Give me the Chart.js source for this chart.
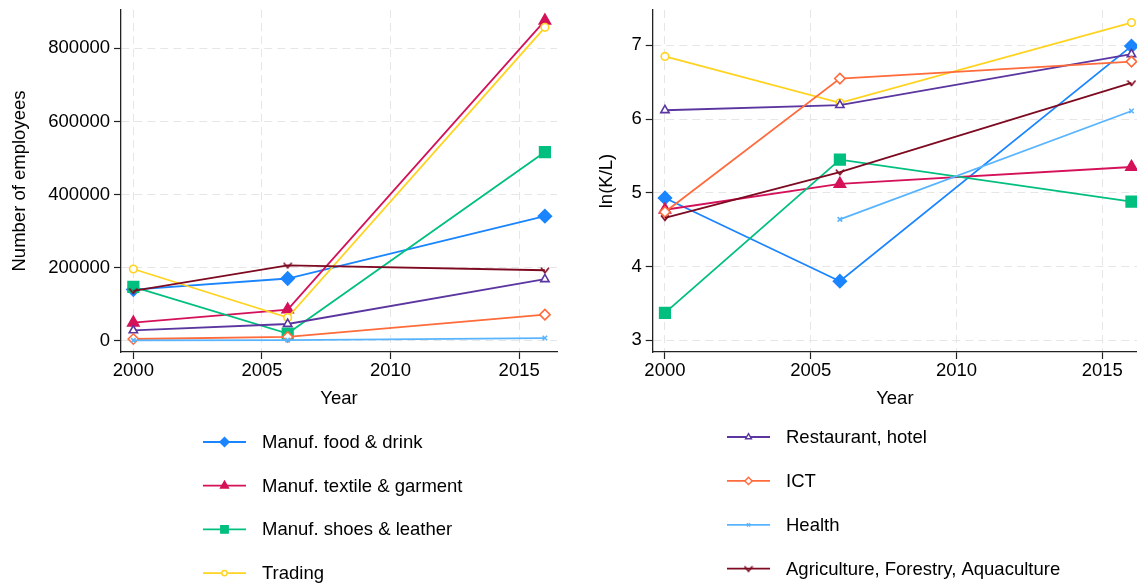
<!DOCTYPE html>
<html>
<head>
<meta charset="utf-8">
<script src="https://cdn.jsdelivr.net/npm/chart.js@4/dist/chart.umd.min.js"></script>
<style>
  html, body { margin: 0; padding: 0; background: #fff; overflow: hidden; }
  canvas { position: absolute; top: 0; display: block; }
  #empChart { left: 0; }
  #klChart { left: 568px; }
</style>
</head>
<body>
<canvas id="empChart" width="568" height="588" style="width:568px;height:588px"></canvas>
<canvas id="klChart" width="569" height="588" style="width:569px;height:588px"></canvas>
<script>
// ------------------------------------------
// data
// ------------------------------------------
const years = [2000, 2006, 2016];
const xTicks = [2000, 2005, 2010, 2015];

const sectorNames = [
    "Manuf. food & drink",
    "Manuf. textile & garment",
    "Manuf. shoes & leather",
    "Trading",
    "Restaurant, hotel",
    "ICT",
    "Health",
    "Agriculture, Forestry, Aquaculture"
];

// number of employees
const empFood       = [139700, 170000, 340600];
const empTextile    = [49300, 85000, 875700];
const empShoes      = [147000, 19200, 516000];
const empTrading    = [196000, 63000, 857600];
const empRestaurant = [28000, 45500, 168000];
const empICT        = [4400, 10000, 71000];
const empHealth     = [500, 1500, 7000];
const empAgri       = [136000, 206000, 192600];
const empTicks      = [0, 200000, 400000, 600000, 800000];

// ln(K/L)
const klFood       = [4.93, 3.80, 6.99];
const klTextile    = [4.77, 5.12, 5.35];
const klShoes      = [3.37, 5.45, 4.88];
const klTrading    = [6.85, 6.22, 7.31];
const klRestaurant = [6.12, 6.19, 6.88];
const klICT        = [4.74, 6.55, 6.78];
const klHealth     = [null, 4.64, 6.11];
const klAgri       = [4.66, 5.28, 6.49];
const klTicks      = [3, 4, 5, 6, 7];

// ------------------------------------------
// styles
// ------------------------------------------
const FONT = "'Liberation Sans', Arial, Helvetica, sans-serif";
Chart.defaults.font.family = FONT;
Chart.defaults.font.size = 18.5;
Chart.defaults.color = "#000";

// little "v" marker, Chart.js has none
function makeVee(color, w, h) {
    const c = document.createElement("canvas");
    c.width = w; c.height = h;
    const g = c.getContext("2d");
    g.strokeStyle = color;
    g.lineWidth = 1.6;
    g.beginPath();
    g.moveTo(1, 1.5);
    g.lineTo(w / 2, h - 1.5);
    g.lineTo(w - 1, 1.5);
    g.stroke();
    return c;
}

const looks = [
    { color: "#1a85ff", style: "rectRot",  r: 6.5, fill: true },
    { color: "#d41159", style: "triangle", r: 6.5, fill: true },
    { color: "#00bf7f", style: "rect",     r: 7.5, fill: true },
    { color: "#ffd320", style: "circle",   r: 3.8, fill: false },
    { color: "#5b36a0", style: "triangle", r: 4.8, fill: false },
    { color: "#ff6b3b", style: "rectRot",  r: 5.2, fill: false },
    { color: "#59b4ff", style: "crossRot", r: 3.2, fill: false },
    { color: "#7d0a20", style: "vee",      r: 4,   fill: false }
];

function buildDatasets(seriesList) {
    return seriesList.map((vals, i) => {
        const lk = looks[i];
        const ps = lk.style === "vee" ? makeVee(lk.color, 10, 8) : lk.style;
        return {
            label: sectorNames[i],
            data: years.map((yr, j) => ({ x: yr, y: vals[j] })),
            borderColor: lk.color,
            backgroundColor: lk.fill ? lk.color : "#fff",
            borderWidth: 1.8,
            pointStyle: ps,
            pointRadius: lk.r,
            pointBorderWidth: 1.6,
            pointBorderColor: lk.color,
            pointBackgroundColor: lk.fill ? lk.color : "#fff",
            tension: 0,
            spanGaps: false,
            order: 7 - i
        };
    });
}

// legend stacked in one column under the plot
const stackLegend = {
    id: "stackLegend",
    afterDraw(chart, args, opts) {
        const ctx = chart.ctx;
        ctx.save();
        opts.items.forEach((idx, k) => {
            const ds = chart.data.datasets[idx];
            const lk = looks[idx];
            const y = opts.y + k * opts.dy;
            ctx.strokeStyle = lk.color;
            ctx.lineWidth = 1.8;
            ctx.beginPath();
            ctx.moveTo(opts.x, y);
            ctx.lineTo(opts.x + opts.lineLen, y);
            ctx.stroke();
            ctx.fillStyle = lk.fill ? lk.color : "#fff";
            ctx.strokeStyle = lk.color;
            ctx.lineWidth = 1.4;
            Chart.helpers.drawPoint(ctx, {
                pointStyle: ds.pointStyle,
                radius: lk.r * 0.7,
                borderWidth: 1.4,
                rotation: 0
            }, opts.x + opts.lineLen / 2, y);
            ctx.fillStyle = "#000";
            ctx.font = "18.5px " + FONT;
            ctx.textBaseline = "middle";
            ctx.textAlign = "left";
            ctx.fillText(ds.label, opts.x + opts.lineLen + opts.gap, y + 1);
        });
        ctx.restore();
    }
};

function axisStyle() {
    return {
        grid: {
            color: "#e6e6e6",
            lineWidth: 1,
            tickColor: "#222",
            tickLength: 7,
            tickWidth: 1.2,
            tickBorderDash: []
        },
        border: { display: true, color: "#222", width: 1.3, dash: [8, 5] }
    };
}

function makeChart(canvasId, seriesList, cfg) {
    const xs = axisStyle();
    const ys = axisStyle();
    return new Chart(document.getElementById(canvasId), {
        type: "line",
        data: { datasets: buildDatasets(seriesList) },
        options: {
            responsive: false,
            animation: false,
            devicePixelRatio: 1,
            layout: {
                autoPadding: false,
                padding: { top: 10, right: cfg.padRight, bottom: 176, left: 0 }
            },
            plugins: {
                legend: { display: false },
                tooltip: { enabled: false },
                stackLegend: cfg.legend
            },
            scales: {
                x: {
                    type: "linear",
                    min: cfg.xMin,
                    max: cfg.xMax,
                    grid: xs.grid,
                    border: xs.border,
                    afterBuildTicks: s => { s.ticks = xTicks.map(v => ({ value: v })); },
                    afterFit: s => {
                        s.height = 60;
                        s.paddingLeft = 0;
                        s.paddingRight = 0;
                    },
                    ticks: { padding: 1, maxRotation: 0, callback: v => String(v) },
                    title: { display: true, text: "Year", padding: { top: 0, bottom: 2 } }
                },
                y: {
                    min: cfg.yMin,
                    max: cfg.yMax,
                    grid: ys.grid,
                    border: ys.border,
                    afterBuildTicks: s => { s.ticks = cfg.yTicks.map(v => ({ value: v })); },
                    afterFit: s => {
                        s.width = cfg.yWidth;
                        s.paddingTop = 0;
                        s.paddingBottom = 0;
                    },
                    ticks: { padding: 4, callback: v => String(v) },
                    title: { display: true, text: cfg.yTitle, padding: { top: cfg.yTitlePad, bottom: 0 } }
                }
            }
        },
        plugins: [stackLegend]
    });
}

window.addEventListener("DOMContentLoaded", () => {

    makeChart("empChart",
        [empFood, empTextile, empShoes, empTrading, empRestaurant, empICT, empHealth, empAgri],
        {
            xMin: 1999.52, xMax: 2016.47,
            yMin: -31200, yMax: 905000, yTicks: empTicks,
            yWidth: 121, padRight: 11,
            yTitle: "Number of employees", yTitlePad: 9,
            legend: { items: [0, 1, 2, 3], x: 203, y: 442, dy: 43.7, lineLen: 43, gap: 16 }
        });

    makeChart("klChart",
        [klFood, klTextile, klShoes, klTrading, klRestaurant, klICT, klHealth, klAgri],
        {
            xMin: 1999.58, xMax: 2016.19,
            yMin: 2.84, yMax: 7.48, yTicks: klTicks,
            yWidth: 84.7, padRight: 0,
            yTitle: "ln(K/L)", yTitlePad: 28,
            legend: { items: [4, 5, 6, 7], x: 159, y: 437, dy: 43.9, lineLen: 43, gap: 16 }
        });
});
</script>
</body>
</html>
